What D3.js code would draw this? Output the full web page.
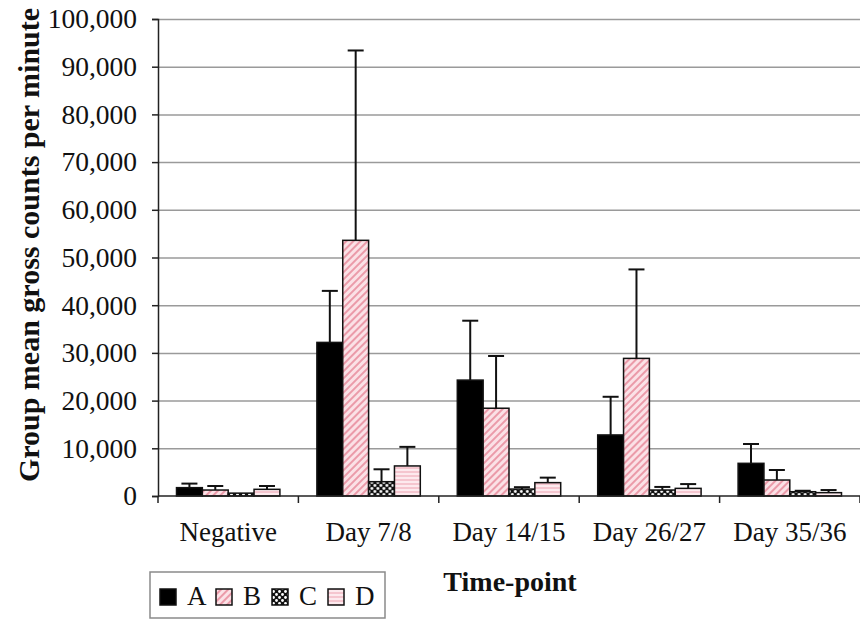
<!DOCTYPE html>
<html>
<head>
<meta charset="utf-8">
<script src="https://cdn.jsdelivr.net/npm/d3@7"></script>
<style>
  body { margin: 0; background: #fff; }
  text { font-family: "Liberation Serif", "Times New Roman", serif; fill: #111; }
</style>
</head>
<body>
<div id="chart"></div>
<script>
// data
var categories = ["Negative", "Day 7/8", "Day 14/15", "Day 26/27", "Day 35/36"];
var groups = ["A", "B", "C", "D"];
var meanA = [1750, 32200, 24300, 12800, 6850];
var meanB = [1250, 53600, 18400, 28850, 3350];
var meanC = [600, 3000, 1450, 1250, 900];
var meanD = [1400, 6300, 2800, 1600, 700];
var errA = [850, 10800, 12450, 8000, 4050];
var errB = [850, 39800, 10950, 18650, 2100];
var errC = [0, 2600, 400, 650, 200];
var errD = [700, 4000, 1050, 900, 550];
var yTicks = [0, 10000, 20000, 30000, 40000, 50000, 60000, 70000, 80000, 90000, 100000];

var means = { A: meanA, B: meanB, C: meanC, D: meanD };
var errs = { A: errA, B: errB, C: errC, D: errD };

var W = 860, H = 620;
var margin = { top: 19, right: 0, bottom: 124, left: 158 };
var width = W - margin.left - margin.right,
    height = H - margin.top - margin.bottom;

var svg = d3.select("#chart")
  .append("svg")
    .attr("width", W)
    .attr("height", H);

// fill patterns
var defs = svg.append("defs");

var pB = defs.append("pattern")
  .attr("id", "patB")
  .attr("patternUnits", "userSpaceOnUse")
  .attr("width", 5).attr("height", 5)
  .attr("patternTransform", "rotate(45)");
pB.append("rect").attr("width", 5).attr("height", 5).attr("fill", "#fbe1e6");
pB.append("line").attr("x1", 1).attr("y1", 0).attr("x2", 1).attr("y2", 5)
  .attr("stroke", "#e8899a").attr("stroke-width", 1.6);

var pC = defs.append("pattern")
  .attr("id", "patC")
  .attr("patternUnits", "userSpaceOnUse")
  .attr("width", 6).attr("height", 6);
pC.append("rect").attr("width", 6).attr("height", 6).attr("fill", "#111");
pC.append("circle").attr("cx", 1.5).attr("cy", 1.5).attr("r", 1.4).attr("fill", "#fff");
pC.append("circle").attr("cx", 4.5).attr("cy", 4.5).attr("r", 1.4).attr("fill", "#fff");

var pD = defs.append("pattern")
  .attr("id", "patD")
  .attr("patternUnits", "userSpaceOnUse")
  .attr("width", 4).attr("height", 4);
pD.append("rect").attr("width", 4).attr("height", 4).attr("fill", "#fdeaee");
pD.append("line").attr("x1", 0).attr("y1", 1).attr("x2", 4).attr("y2", 1)
  .attr("stroke", "#eea3b0").attr("stroke-width", 1);

var fills = { A: "#000", B: "url(#patB)", C: "url(#patC)", D: "url(#patD)" };

var g = svg.append("g")
  .attr("transform", "translate(" + margin.left + "," + margin.top + ")");

// scales
var x0 = d3.scaleBand()
  .domain(categories)
  .range([0, width]);

var x1 = d3.scaleBand()
  .domain(groups)
  .range([18.5, x0.bandwidth() - 18.5]);

var y = d3.scaleLinear()
  .domain([0, 100000])
  .range([height, 0]);

// grid lines
g.append("g")
  .attr("class", "grid")
  .call(d3.axisLeft(y)
    .tickValues(yTicks.slice(1))
    .tickSize(-width)
    .tickFormat(""))
  .call(s => s.select(".domain").remove())
  .call(s => s.selectAll("line").attr("stroke", "#9a9a9a").attr("stroke-width", 1.5));

// Y axis
g.append("g")
  .call(d3.axisLeft(y)
    .tickValues(yTicks)
    .tickSize(6)
    .tickPadding(15)
    .tickFormat(d3.format(",")))
  .call(s => s.select(".domain").attr("stroke", "#222").attr("stroke-width", 1.5))
  .call(s => s.selectAll("line").attr("stroke", "#222").attr("stroke-width", 1.5))
  .call(s => s.selectAll("text")
    .style("font-family", "Liberation Serif")
    .style("font-size", "27.5px")
    .attr("fill", "#111"));

// bars
var rows = categories.map((c, i) => ({
  cat: c,
  vals: groups.map(k => ({ key: k, v: means[k][i], e: errs[k][i] }))
}));

var grp = g.selectAll(".cat")
  .data(rows)
  .enter()
    .append("g")
    .attr("class", "cat")
    .attr("transform", d => "translate(" + x0(d.cat) + ",0)");

// error bars (upper only)
var eb = grp.selectAll(".err")
  .data(d => d.vals.filter(v => v.e > 0))
  .enter()
    .append("g")
    .attr("class", "err")
    .attr("stroke", "#111")
    .attr("stroke-width", 2);

eb.append("line")
  .attr("x1", d => x1(d.key) + x1.bandwidth() / 2)
  .attr("x2", d => x1(d.key) + x1.bandwidth() / 2)
  .attr("y1", d => y(d.v))
  .attr("y2", d => y(d.v + d.e));

eb.append("line")
  .attr("x1", d => x1(d.key) + x1.bandwidth() / 2 - 8)
  .attr("x2", d => x1(d.key) + x1.bandwidth() / 2 + 8)
  .attr("y1", d => y(d.v + d.e))
  .attr("y2", d => y(d.v + d.e));

grp.selectAll("rect")
  .data(d => d.vals)
  .enter()
    .append("rect")
    .attr("x", d => x1(d.key))
    .attr("y", d => y(d.v))
    .attr("width", x1.bandwidth())
    .attr("height", d => y(0) - y(d.v))
    .attr("fill", d => fills[d.key])
    .attr("stroke", "#111")
    .attr("stroke-width", 1.5);

// X axis line and ticks at the band edges
g.append("line")
  .attr("x1", 0).attr("x2", width)
  .attr("y1", height).attr("y2", height)
  .attr("stroke", "#222").attr("stroke-width", 1.5);

var edges = categories.map(c => x0(c)).concat([width]);
g.selectAll(".xtick")
  .data(edges)
  .enter()
    .append("line")
    .attr("class", "xtick")
    .attr("x1", d => d).attr("x2", d => d)
    .attr("y1", height).attr("y2", height + 7)
    .attr("stroke", "#222").attr("stroke-width", 1.5);

g.selectAll(".xlabel")
  .data(categories)
  .enter()
    .append("text")
    .attr("class", "xlabel")
    .attr("x", d => x0(d) + x0.bandwidth() / 2)
    .attr("y", height + 45)
    .attr("text-anchor", "middle")
    .style("font-size", "27px")
    .text(d => d);

// axis titles
svg.append("text")
  .attr("transform", "translate(39," + 245 + ") rotate(-90)")
  .attr("text-anchor", "middle")
  .style("font-size", "30px")
  .style("font-weight", "bold")
  .text("Group mean gross counts per minute");

svg.append("text")
  .attr("x", 510)
  .attr("y", 591)
  .attr("text-anchor", "middle")
  .style("font-size", "28px")
  .style("font-weight", "bold")
  .text("Time-point");

// legend
var legend = svg.append("g").attr("transform", "translate(150,572)");

legend.append("rect")
  .attr("width", 235)
  .attr("height", 46)
  .attr("fill", "#fff")
  .attr("stroke", "#8a8a8a")
  .attr("stroke-width", 1.5);

var item = legend.selectAll(".item")
  .data(groups)
  .enter()
    .append("g")
    .attr("class", "item")
    .attr("transform", (d, i) => "translate(" + (10 + i * 56) + ",0)");

item.append("rect")
  .attr("y", 17)
  .attr("width", 16)
  .attr("height", 16)
  .attr("fill", d => fills[d])
  .attr("stroke", "#111")
  .attr("stroke-width", 1.5);

item.append("text")
  .attr("x", 27)
  .attr("y", 33)
  .style("font-size", "27px")
  .text(d => d);
</script>
</body>
</html>
